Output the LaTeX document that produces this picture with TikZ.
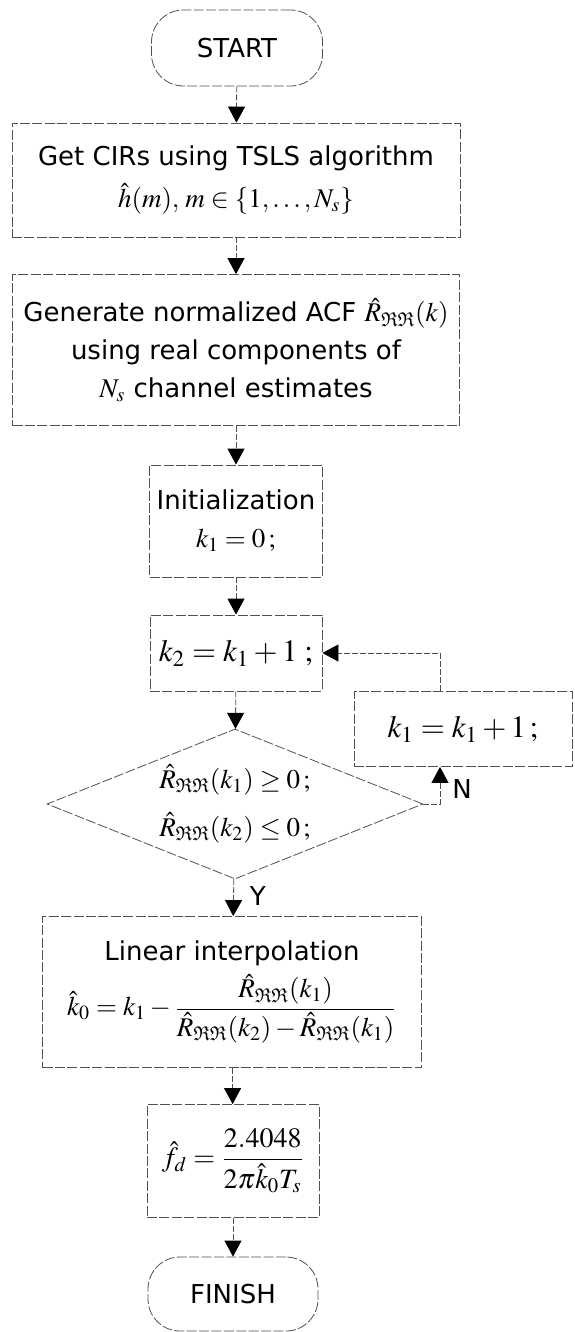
\documentclass[tikz,border=0pt]{standalone}
\usepackage{amsmath,amssymb}
\usepackage{mathptmx}
\usepackage[no-math]{fontspec}
\setmainfont{DejaVu Sans}
\usetikzlibrary{arrows.meta,positioning,shapes.geometric}
\definecolor{edge}{RGB}{80,80,80}
\newcommand{\RR}{\hat{R}_{\mathfrak{R}\mathfrak{R}}}
\newcommand{\mth}[1]{{\fontsize{13.5}{18}\selectfont$#1$}}
\tikzset{
  blk/.style={draw=edge, line width=0.4pt, dash pattern=on 5pt off 1.2pt, align=center, inner sep=0pt, font=\fontsize{13}{19}\selectfont},
  term/.style={blk, rounded corners=16pt},
  cond/.style={blk, diamond, aspect=2.5},
  arr/.style={draw=edge, line width=0.4pt, dash pattern=on 3pt off 1pt, -{Triangle[length=8pt,width=8.5pt,color=black]}},
  lab/.style={font=\fontsize{13}{15}\selectfont, inner sep=1pt},
}
\begin{document}
\begin{tikzpicture}[x=0.5pt,y=-0.5pt]
  \useasboundingbox (0,0) rectangle (574,1332);
  \node[term, minimum width=85.5pt, minimum height=38pt] (start) at (237,48) {START};
  \node[blk, minimum width=224pt, minimum height=57pt] (cir) at (236,180)
    {Get CIRs using TSLS algorithm\\[2pt] \mth{\hat{h}(m),\, m\in\{1,\ldots,N_s\}}};
  \node[blk, minimum width=223.5pt, minimum height=75.5pt] (acf) at (236,350)
    {Generate normalized ACF \mth{\RR(k)}\\ using real components of\\ \mth{N_s}\ channel estimates};
  \node[blk, minimum width=86.5pt, minimum height=56pt] (init) at (236,521)
    {Initialization\\ \mth{k_1=0\,;}};
  \node[blk, minimum width=86pt, minimum height=38pt, font=\fontsize{15.5}{19}\selectfont] (k2) at (236,653)
    {$k_2=k_1+1\;;$};
  \node[blk, minimum width=109pt, minimum height=37.5pt, font=\fontsize{15.5}{19}\selectfont] (k1) at (463,729)
    {$k_1=k_1+1\,;$};
  \node[cond, minimum width=188pt, minimum height=75pt, font=\fontsize{13.5}{24}\selectfont] (test) at (235,804)
    {$\RR(k_1)\geq 0\,;$\\ $\RR(k_2)\leq 0\,;$};
  \node[blk, minimum width=189.5pt, minimum height=75.5pt] (interp) at (232,992)
    {Linear interpolation\\[3pt] \mth{\hat{k}_0=k_1-\dfrac{\RR(k_1)}{\RR(k_2)-\RR(k_1)}}};
  \node[blk, minimum width=86pt, minimum height=56.5pt, font=\fontsize{14}{18}\selectfont] (fd) at (233,1161)
    {$\hat{f}_d=\dfrac{2.4048}{2\pi\hat{k}_0T_s}$};
  \node[term, minimum width=85pt, minimum height=37pt] (finish) at (233,1294) {FINISH};

  \draw[arr] (start) -- (cir);
  \draw[arr] (cir) -- (acf);
  \draw[arr] (acf) -- (init);
  \draw[arr] (init) -- (k2);
  \draw[arr] (k2) -- (test);
  \draw[arr] (test) -- node[lab, right=7pt, pos=0.45] {Y} (interp);
  \draw[arr] (interp) -- (fd);
  \draw[arr] (fd) -- (finish);
  % loop back
  \draw[arr] (test.east) -| node[lab, right=5pt, pos=0.7] {N} ([xshift=-11.5pt]k1.south);
  \draw[arr] ([xshift=-11.5pt]k1.north) |- (k2.east);
\end{tikzpicture}
\end{document}
